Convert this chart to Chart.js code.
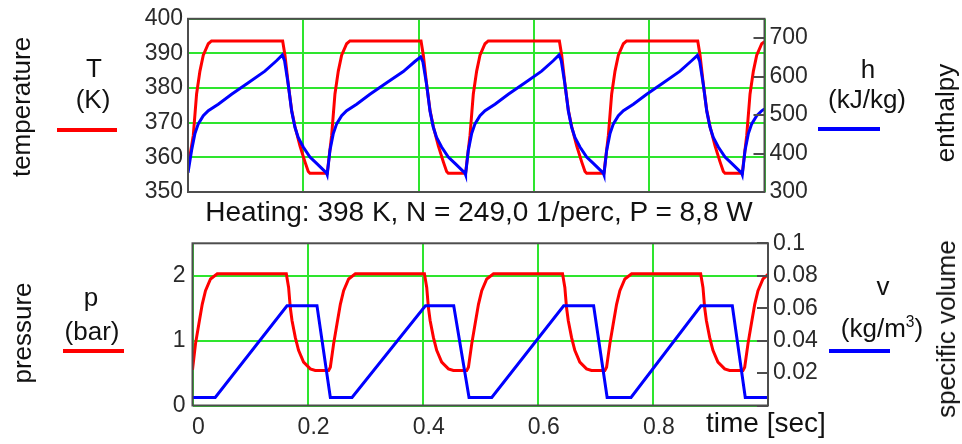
<!DOCTYPE html>
<html>
<head>
<meta charset="utf-8">
<script src="https://cdn.jsdelivr.net/npm/chart.js@4.4.1/dist/chart.umd.min.js"></script>
<style>
  body { margin: 0; background: #fff; }
  #page { position: relative; width: 962px; height: 444px; overflow: hidden;
          font-family: 'Liberation Sans', Arial, sans-serif; color: #111; }
  canvas { position: absolute; left: 0; }
  .lbl { position: absolute; font-size: 26px; line-height: 1; white-space: nowrap; transform: translateX(-50%); }
  .rot { position: absolute; font-size: 26px; line-height: 1; white-space: nowrap;
         transform: translate(-50%, -50%) rotate(-90deg); }
  .key { position: absolute; height: 4px; }
  sup { font-size: 0.6em; vertical-align: 0.65em; line-height: 0; }
</style>
</head>
<body>
<div id="page">
  <canvas id="upper" width="962" height="230" style="top:0"></canvas>
  <canvas id="lower" width="962" height="222" style="top:222px"></canvas>

  <div class="rot" style="left:21px; top:107px">temperature</div>
  <div class="lbl" style="left:94px; top:55px">T</div>
  <div class="lbl" style="left:93px; top:86px">(K)</div>
  <div class="key" style="left:57px; top:128px; width:60px; background:#ff0000"></div>

  <div class="lbl" style="left:868px; top:56px">h</div>
  <div class="lbl" style="left:867px; top:86px">(kJ/kg)</div>
  <div class="key" style="left:818px; top:127px; width:62px; background:#0000ff"></div>
  <div class="rot" style="left:945px; top:113px">enthalpy</div>

  <div class="lbl" style="left:479px; top:198px; font-size:28px">Heating: 398 K, N = 249,0 1/perc, P = 8,8 W</div>

  <div class="rot" style="left:22px; top:333px">pressure</div>
  <div class="lbl" style="left:91px; top:284px">p</div>
  <div class="lbl" style="left:92px; top:318px">(bar)</div>
  <div class="key" style="left:63px; top:349px; width:61px; background:#ff0000"></div>

  <div class="lbl" style="left:883px; top:273px">v</div>
  <div class="lbl" style="left:882px; top:315px">(kg/m<sup>3</sup>)</div>
  <div class="key" style="left:829px; top:349px; width:61px; background:#0000ff"></div>
  <div class="rot" style="left:946px; top:329px">specific volume</div>

  <div class="lbl" style="left:706px; top:409px; font-size:28px; transform:none">time [sec]</div>
</div>

<script>
// temperature T (K), left axis of the upper plot
const tempTime = [
    0, 0.0092, 0.0149, 0.0207, 0.0265, 0.0352, 0.0408, 0.1642, 0.1682, 0.1739, 0.1798, 0.1855, 0.1942, 0.2029, 0.2086, 0.2115, 0.2415,
    0.2492, 0.2549, 0.2607, 0.2665, 0.2752, 0.2808, 0.4042, 0.4082, 0.4139, 0.4198, 0.4255, 0.4342, 0.4429, 0.4486, 0.4515, 0.4815,
    0.4892, 0.4949, 0.5007, 0.5065, 0.5152, 0.5208, 0.6442, 0.6482, 0.6539, 0.6598, 0.6655, 0.6742, 0.6829, 0.6886, 0.6915, 0.7215,
    0.7292, 0.7349, 0.7407, 0.7465, 0.7552, 0.7608, 0.8842, 0.8882, 0.8939, 0.8998, 0.9055, 0.9142, 0.9229, 0.9286, 0.9315, 0.9615,
    0.9692, 0.9749, 0.9807, 0.9865, 0.9952, 1.0,
];
const tempK = [
    357, 366.4, 378.3, 384.9, 389.5, 392.8, 393.6, 393.6, 389.5, 381.1, 373.6, 368.9, 363.3, 358.7, 355.9, 355.4, 355.4,
    366.4, 378.3, 384.9, 389.5, 392.8, 393.6, 393.6, 389.5, 381.1, 373.6, 368.9, 363.3, 358.7, 355.9, 355.4, 355.4,
    366.4, 378.3, 384.9, 389.5, 392.8, 393.6, 393.6, 389.5, 381.1, 373.6, 368.9, 363.3, 358.7, 355.9, 355.4, 355.4,
    366.4, 378.3, 384.9, 389.5, 392.8, 393.6, 393.6, 389.5, 381.1, 373.6, 368.9, 363.3, 358.7, 355.9, 355.4, 355.4,
    366.4, 378.3, 384.9, 389.5, 392.8, 393.4,
];

// enthalpy h (kJ/kg), right axis of the upper plot
const enthTime = [
    0, 0.0062, 0.0119, 0.0178, 0.0265, 0.0352, 0.0525, 0.0756, 0.1046, 0.1334, 0.1535, 0.1636, 0.1675, 0.1739, 0.1798, 0.1855, 0.1912, 0.1999, 0.2115, 0.2231, 0.2405, 0.2415,
    0.2462, 0.2519, 0.2578, 0.2665, 0.2752, 0.2925, 0.3156, 0.3446, 0.3734, 0.3935, 0.4036, 0.4075, 0.4139, 0.4198, 0.4255, 0.4312, 0.4399, 0.4515, 0.4631, 0.4805, 0.4815,
    0.4862, 0.4919, 0.4978, 0.5065, 0.5152, 0.5325, 0.5556, 0.5846, 0.6134, 0.6335, 0.6436, 0.6475, 0.6539, 0.6598, 0.6655, 0.6712, 0.6799, 0.6915, 0.7031, 0.7205, 0.7215,
    0.7262, 0.7319, 0.7378, 0.7465, 0.7552, 0.7725, 0.7956, 0.8246, 0.8534, 0.8735, 0.8836, 0.8875, 0.8939, 0.8998, 0.9055, 0.9112, 0.9199, 0.9315, 0.9431, 0.9605, 0.9615,
    0.9662, 0.9719, 0.9778, 0.9865, 0.9952, 1.0,
];
const enthH = [
    350, 408, 451, 477, 498, 511, 528, 554, 584, 614, 641, 656, 641, 579, 510, 468, 442, 417, 391, 374.5, 349, 345,
    408, 451, 477, 498, 511, 528, 554, 584, 613, 639, 651, 638, 579, 510, 468, 442, 417, 391, 374.5, 349, 345,
    408, 451, 477, 498, 511, 528, 554, 584, 614, 641, 656, 641, 579, 510, 468, 442, 417, 391, 374.5, 349, 345,
    408, 451, 477, 498, 511, 528, 554, 584, 614, 641, 655, 640, 579, 510, 468, 442, 417, 391, 374.5, 349, 345,
    408, 451, 477, 498, 511, 516,
];

// pressure p (bar), left axis of the lower plot
const presTime = [
    0, 0.0052, 0.0111, 0.0169, 0.0226, 0.0313, 0.043, 0.163, 0.167, 0.1699, 0.1729, 0.1786, 0.1843, 0.193, 0.2047, 0.2133, 0.2365, 0.2395,
    0.2452, 0.2511, 0.2569, 0.2626, 0.2713, 0.283, 0.403, 0.407, 0.4099, 0.4129, 0.4186, 0.4243, 0.433, 0.4447, 0.4533, 0.4765, 0.4795,
    0.4852, 0.4911, 0.4969, 0.5026, 0.5113, 0.523, 0.643, 0.647, 0.6499, 0.6529, 0.6586, 0.6643, 0.673, 0.6847, 0.6933, 0.7165, 0.7195,
    0.7252, 0.7311, 0.7369, 0.7426, 0.7513, 0.763, 0.883, 0.887, 0.8899, 0.8929, 0.8986, 0.9043, 0.913, 0.9247, 0.9333, 0.9565, 0.9595,
    0.9652, 0.9711, 0.9769, 0.9826, 0.9913, 1.0,
];
const presBar = [
    0.55, 0.95, 1.26, 1.56, 1.77, 1.95, 2.03, 2.03, 1.82, 1.51, 1.31, 1.05, 0.85, 0.67, 0.565, 0.54, 0.54, 0.59,
    0.95, 1.26, 1.56, 1.77, 1.95, 2.03, 2.03, 1.82, 1.51, 1.31, 1.05, 0.85, 0.67, 0.565, 0.54, 0.54, 0.59,
    0.95, 1.26, 1.56, 1.77, 1.95, 2.03, 2.03, 1.82, 1.51, 1.31, 1.05, 0.85, 0.67, 0.565, 0.54, 0.54, 0.59,
    0.95, 1.26, 1.56, 1.77, 1.95, 2.03, 2.03, 1.82, 1.51, 1.31, 1.05, 0.85, 0.67, 0.565, 0.54, 0.54, 0.59,
    0.95, 1.26, 1.56, 1.77, 1.95, 2.02,
];

// specific volume v, right axis of the lower plot
const volTime = [
    0, 0.0395, 0.1642, 0.2163, 0.2395,
    0.2772, 0.4047, 0.4539, 0.4805,
    0.52, 0.645, 0.697, 0.7205,
    0.762, 0.8835, 0.938, 0.9605,
    1.0,
];
const volV = [
    0.005, 0.005, 0.0615, 0.0615, 0.005,
    0.005, 0.0615, 0.0615, 0.005,
    0.005, 0.0615, 0.0615, 0.005,
    0.005, 0.0615, 0.0615, 0.005,
    0.005,
];

const RED = '#ff0000';
const BLUE = '#0000ff';
const GREEN = '#2ee52e';
const FRAME = '#4d4d4d';

Chart.defaults.font.family = "'Liberation Sans', Arial, sans-serif";
Chart.defaults.font.size = 23;
Chart.defaults.color = '#2a2a2a';

const pts = (xs, ys) => xs.map((x, i) => ({ x, y: ys[i] }));

// box round the plot area, plus short inward ticks on the right-hand axis
const frame = {
    id: 'frame',
    afterDatasetsDraw(chart, args, opts) {
        const { ctx, chartArea: a } = chart;
        const s = chart.scales[opts.axis];

        ctx.save();
        ctx.strokeStyle = FRAME;
        ctx.lineWidth = 2;
        ctx.beginPath();
        s.ticks.forEach((t) => {
            const y = Math.round(s.getPixelForValue(t.value));
            ctx.moveTo(a.right - 11, y);
            ctx.lineTo(a.right, y);
        });
        ctx.stroke();
        ctx.strokeRect(a.left, a.top, a.right - a.left, a.bottom - a.top);
        ctx.restore();
    },
};

const line = (data, color, axis, order) => ({
    data,
    borderColor: color,
    backgroundColor: color,
    borderWidth: 3,
    pointRadius: 0,
    tension: 0,
    yAxisID: axis,
    order,
});

const timeAxis = (showLabels, height) => ({
    type: 'linear',
    min: 0,
    max: 1,
    ticks: {
        display: showLabels,
        stepSize: 0.2,
        padding: 8,
        labelOffset: 6,
        callback: (v) => (v >= 1 ? '' : String(Math.round(v * 10) / 10)),
    },
    grid: { color: GREEN, lineWidth: 2, drawTicks: false },
    border: { display: false },
    afterFit: (s) => { s.height = height; },
});

const baseOptions = {
    responsive: false,
    animation: false,
    events: [],
    plugins: { legend: { display: false }, tooltip: { enabled: false } },
};

new Chart(document.getElementById('upper'), {
    type: 'line',
    data: {
        datasets: [
            line(pts(tempTime, tempK), RED, 'y', 2),
            line(pts(enthTime, enthH), BLUE, 'h', 1),
        ],
    },
    options: {
        ...baseOptions,
        layout: { padding: { top: 16 } },
        plugins: { ...baseOptions.plugins, frame: { axis: 'h' } },
        scales: {
            x: timeAxis(false, 38),
            y: {
                position: 'left',
                min: 350,
                max: 400,
                ticks: { stepSize: 10, padding: 5 },
                grid: { color: GREEN, lineWidth: 2, drawTicks: false },
                border: { display: false },
                afterFit: (s) => { s.width = 188; },
            },
            h: {
                position: 'right',
                min: 300,
                max: 750,
                ticks: { stepSize: 100, includeBounds: false, padding: 5 },
                grid: { drawOnChartArea: false, drawTicks: false },
                border: { display: false },
                afterFit: (s) => { s.width = 197.5; },
            },
        },
    },
    plugins: [frame],
});

new Chart(document.getElementById('lower'), {
    type: 'line',
    data: {
        datasets: [
            line(pts(presTime, presBar), RED, 'y', 2),
            line(pts(volTime, volV), BLUE, 'v', 1),
        ],
    },
    options: {
        ...baseOptions,
        layout: { padding: { top: 21.3 } },
        plugins: { ...baseOptions.plugins, frame: { axis: 'v' } },
        scales: {
            x: timeAxis(true, 38.5),
            y: {
                position: 'left',
                min: 0,
                max: 2.5,
                ticks: { stepSize: 1, includeBounds: false, padding: 7 },
                grid: { color: GREEN, lineWidth: 2, drawTicks: false },
                border: { display: false },
                afterFit: (s) => { s.width = 192.5; },
            },
            v: {
                position: 'right',
                min: 0,
                max: 0.1,
                ticks: {
                    stepSize: 0.02,
                    padding: 5,
                    callback: (v) => (v === 0 ? '' : String(+v.toFixed(2))),
                },
                grid: { drawOnChartArea: false, drawTicks: false },
                border: { display: false },
                afterFit: (s) => { s.width = 194; },
            },
        },
    },
    plugins: [frame],
});
</script>
</body>
</html>
